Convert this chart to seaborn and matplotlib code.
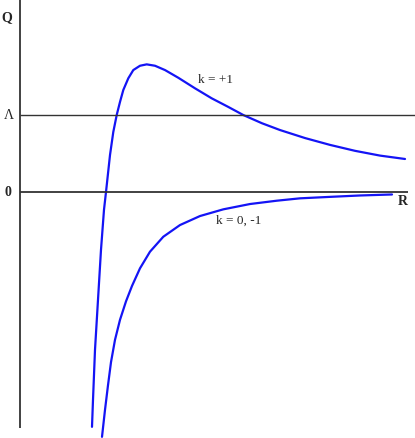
import numpy as np
import pandas as pd
import matplotlib
matplotlib.use("Agg")
import matplotlib.pyplot as plt
import seaborn as sns

# k = +1 curve (R, Q), Lambda line at Q = 1
r_closed = [0.72, 0.73, 0.75, 0.78, 0.81, 0.84, 0.86, 0.90, 0.933, 0.967, 1.00,
            1.033, 1.083, 1.133, 1.20, 1.267, 1.35, 1.45, 1.583, 1.75, 1.917,
            2.083, 2.233, 2.42, 2.60, 2.85, 3.10, 3.35, 3.60, 3.85]
q_closed = [-3.05, -2.70, -2.05, -1.40, -0.75, -0.23, 0.0, 0.48, 0.78, 1.0, 1.17,
            1.325, 1.477, 1.584, 1.64, 1.658, 1.64, 1.584, 1.484, 1.347, 1.217,
            1.105, 1.0, 0.893, 0.805, 0.701, 0.612, 0.535, 0.473, 0.429]

# k = 0, -1 curve
r_open = [0.82, 0.85, 0.88, 0.91, 0.95, 1.00, 1.06, 1.12, 1.20, 1.30, 1.433,
          1.60, 1.80, 2.033, 2.30, 2.567, 2.80, 3.10, 3.40, 3.72]
q_open = [-3.18, -2.83, -2.51, -2.21, -1.92, -1.66, -1.42, -1.22, -0.991, -0.775,
          -0.581, -0.429, -0.312, -0.225, -0.156, -0.113, -0.082, -0.063, -0.045, -0.032]

lam = 1.0
curve_labels = ["k = +1", "k = 0, -1"]

df = pd.concat([
    pd.DataFrame({"R": r_closed, "Q": q_closed, "k": curve_labels[0]}),
    pd.DataFrame({"R": r_open, "Q": q_open, "k": curve_labels[1]}),
])

sns.set_style("white")
plt.rcParams["font.family"] = ["Liberation Serif", "DejaVu Serif"]

fig = plt.figure(figsize=(4.15, 4.38), dpi=100)
ax = fig.add_axes([0, 0, 1, 1])

sns.lineplot(data=df, x="R", y="Q", hue="k", palette=["#1414f5", "#1414f5"],
             sort=False, estimator=None, linewidth=1.6, legend=False, ax=ax)
for line in ax.get_lines():
    line.set_solid_joinstyle("round")

# axes drawn by hand
ax.plot([0, 0], [-3.065, 2.6], color="#333333", lw=1.3, solid_capstyle="butt")
ax.plot([0, 3.88], [0, 0], color="#333333", lw=1.3, solid_capstyle="butt")
ax.plot([0, 3.95], [lam, lam], color="#333333", lw=1.0, solid_capstyle="butt")

ax.set_xlim(-0.2, 3.95)
ax.set_ylim(-3.195, 2.494)
ax.axis("off")

ax.text(-0.135, 2.27, "Q", fontsize=10, fontweight="bold", ha="center", va="center")
ax.text(-0.11, lam, "Λ", fontsize=10, ha="center", va="center")
ax.text(-0.12, 0, "0", fontsize=10, fontweight="bold", ha="center", va="center")
ax.text(3.83, -0.12, "R", fontsize=10, fontweight="bold", ha="center", va="center")
ax.text(1.78, 1.45, curve_labels[0], fontsize=9.5, ha="left", va="center")
ax.text(1.96, -0.37, curve_labels[1], fontsize=9.5, ha="left", va="center")

fig.savefig("out.png", dpi=100)
